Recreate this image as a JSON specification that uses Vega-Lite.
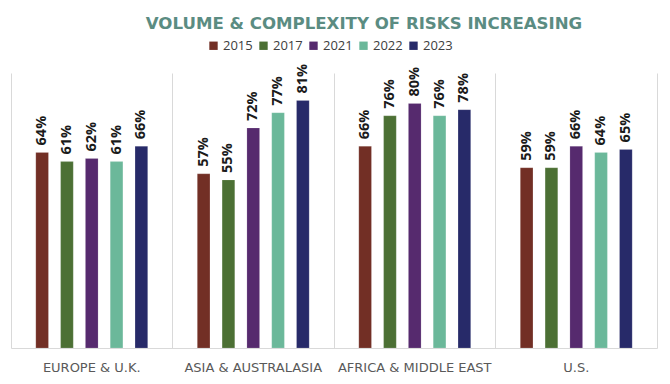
{
  "$schema": "https://vega.github.io/schema/vega-lite/v6.json",
  "autosize": "none",
  "width": 646,
  "height": 275,
  "padding": {"left": 11, "top": 73, "right": 13, "bottom": 36},
  "background": "white",
  "title": {
    "text": "VOLUME & COMPLEXITY OF RISKS INCREASING",
    "font": "DejaVu Sans",
    "fontSize": 16.6,
    "fontWeight": "bold",
    "color": "#5B8C82",
    "anchor": "middle",
    "frame": "group",
    "dx": 30,
    "offset": 6
  },
  "data": {
    "values": [
      {"region": "EUROPE & U.K.", "year": "2015", "value": 0.64},
      {"region": "EUROPE & U.K.", "year": "2017", "value": 0.61},
      {"region": "EUROPE & U.K.", "year": "2021", "value": 0.62},
      {"region": "EUROPE & U.K.", "year": "2022", "value": 0.61},
      {"region": "EUROPE & U.K.", "year": "2023", "value": 0.66},
      {"region": "ASIA & AUSTRALASIA", "year": "2015", "value": 0.57},
      {"region": "ASIA & AUSTRALASIA", "year": "2017", "value": 0.55},
      {"region": "ASIA & AUSTRALASIA", "year": "2021", "value": 0.72},
      {"region": "ASIA & AUSTRALASIA", "year": "2022", "value": 0.77},
      {"region": "ASIA & AUSTRALASIA", "year": "2023", "value": 0.81},
      {"region": "AFRICA & MIDDLE EAST", "year": "2015", "value": 0.66},
      {"region": "AFRICA & MIDDLE EAST", "year": "2017", "value": 0.76},
      {"region": "AFRICA & MIDDLE EAST", "year": "2021", "value": 0.80},
      {"region": "AFRICA & MIDDLE EAST", "year": "2022", "value": 0.76},
      {"region": "AFRICA & MIDDLE EAST", "year": "2023", "value": 0.78},
      {"region": "U.S.", "year": "2015", "value": 0.59},
      {"region": "U.S.", "year": "2017", "value": 0.59},
      {"region": "U.S.", "year": "2021", "value": 0.66},
      {"region": "U.S.", "year": "2022", "value": 0.64},
      {"region": "U.S.", "year": "2023", "value": 0.65}
    ]
  },
  "encoding": {
    "x": {
      "field": "region",
      "type": "nominal",
      "sort": ["EUROPE & U.K.", "ASIA & AUSTRALASIA", "AFRICA & MIDDLE EAST", "U.S."],
      "scale": {"paddingInner": 0, "paddingOuter": 0},
      "axis": {
        "title": null,
        "labelAngle": 0,
        "labelFont": "DejaVu Sans",
        "labelFontSize": 13,
        "labelColor": "#595959",
        "labelPadding": 13,
        "ticks": false,
        "domainColor": "#D9D9D9",
        "grid": true,
        "gridColor": "#D9D9D9",
        "bandPosition": 0
      }
    },
    "xOffset": {
      "field": "year",
      "type": "nominal",
      "scale": {"paddingInner": 0.49, "paddingOuter": 1.18}
    },
    "y": {
      "field": "value",
      "type": "quantitative",
      "scale": {"domain": [0, 0.9]},
      "axis": {
        "orient": "right",
        "title": null,
        "labels": false,
        "ticks": false,
        "grid": false,
        "domainColor": "#D9D9D9"
      }
    }
  },
  "layer": [
    {
      "mark": {"type": "bar", "stroke": "#ffffff", "strokeOpacity": 0.3, "strokeWidth": 0.5},
      "encoding": {
        "color": {
          "field": "year",
          "type": "nominal",
          "scale": {
            "domain": ["2015", "2017", "2021", "2022", "2023"],
            "range": ["#722F25", "#4C7034", "#562A6E", "#6BB89A", "#272A69"]
          },
          "legend": {
            "title": null,
            "orient": "none",
            "direction": "horizontal",
            "legendX": 196,
            "legendY": -34,
            "symbolType": "square",
            "symbolSize": 70,
            "symbolStrokeWidth": 0,
            "labelFont": "Open Sans",
            "labelFontSize": 13,
            "labelColor": "#404040",
            "labelOffset": 3,
            "columnPadding": 4
          }
        }
      }
    },
    {
      "mark": {
        "type": "text",
        "angle": 270,
        "align": "left",
        "baseline": "middle",
        "dx": 7,
        "font": "Open Sans",
        "fontSize": 14.5,
        "fontWeight": "bold",
        "color": "#1a1a1a"
      },
      "encoding": {
        "text": {"field": "value", "type": "quantitative", "format": ".0%"}
      }
    }
  ],
  "config": {
    "view": {"stroke": null}
  }
}
